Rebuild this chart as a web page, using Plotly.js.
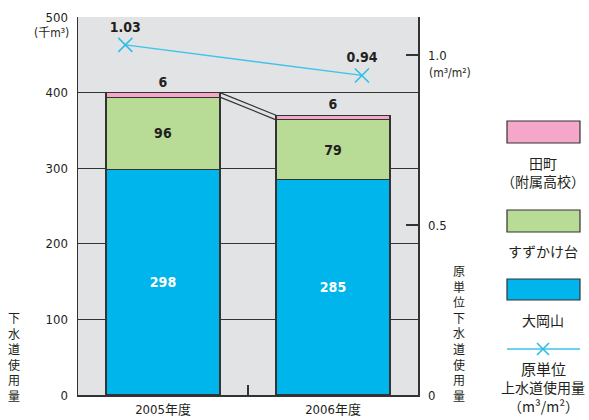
<!DOCTYPE html>
<html><head><meta charset="utf-8">
<script src="https://cdn.plot.ly/plotly-3.0.1.min.js"></script>
<style>html,body{margin:0;padding:0;background:#fff}#c{width:589px;height:420px}</style>
</head><body><div id="c"></div>
<script>
const years = ['2005年度', '2006年度'];
const ookayama = [298, 285];
const suzukakedai = [96, 79];
const tamachi = [6, 6];
const unitUsage = [1.03, 0.94];
const leftTicks = [0, 100, 200, 300, 400, 500];
const rightTicks = [0, 0.5, 1.0];
const rightTickText = ['0', '0.5', '1.0'];

const FONT = "'DejaVu Sans Condensed', 'Noto Sans CJK JP', sans-serif";
const CJK = "'Noto Sans CJK JP', sans-serif";
const INK = '#231f20';
const barW = 0.67;

const L = 78, R = 418, T = 17, B = 395, W = 589, H = 420;
const px = x => (x - L) / (R - L);
const py = y => (B - y) / (B - T);

const outline = {color: '#333', width: 1.2};
const traces = [
  {type: 'bar', x: years, y: ookayama, width: barW, marker: {color: '#00b5ec', line: outline},
   texttemplate: '<b>%{y}</b>', textposition: 'inside', insidetextanchor: 'middle',
   textfont: {family: FONT, size: 14, color: '#fff'}, hoverinfo: 'none'},
  {type: 'bar', x: years, y: suzukakedai, width: barW, marker: {color: '#b8db96', line: outline},
   texttemplate: '<b>%{y}</b>', textposition: 'inside', insidetextanchor: 'middle',
   textfont: {family: FONT, size: 14, color: INK}, hoverinfo: 'none'},
  {type: 'bar', x: years, y: tamachi, width: barW, marker: {color: '#f4a7c9', line: outline},
   texttemplate: '<b>%{y}</b>', textposition: 'outside', cliponaxis: false,
   textfont: {family: FONT, size: 14, color: INK}, hoverinfo: 'none'}
];
// connector lines between stack tops
const topTotals = years.map((_, i) => ookayama[i] + suzukakedai[i] + tamachi[i]);
const midTotals = years.map((_, i) => ookayama[i] + suzukakedai[i]);
[topTotals, midTotals].forEach(arr => {
  traces.push({type: 'scatter', mode: 'lines', xaxis: 'x3', yaxis: 'y',
    x: [0 + barW / 2, 1 - barW / 2], y: [arr[0], arr[1]],
    line: {color: '#333', width: 1.2}, hoverinfo: 'none', showlegend: false});
});
traces.push({type: 'scatter', mode: 'lines+markers+text', xaxis: 'x2', yaxis: 'y2',
  x: years, y: unitUsage, text: unitUsage.map(v => '<b>' + v.toFixed(2) + '</b>'),
  textposition: 'top center', textfont: {family: FONT, size: 14, color: INK},
  line: {color: '#3ec3ea', width: 1.3},
  marker: {symbol: 'x-thin', size: 14, line: {color: '#2fbde8', width: 1.6}},
  cliponaxis: false, hoverinfo: 'none'});

const ann = [];
const addText = (x, y, text, opts = {}) => ann.push(Object.assign({
  xref: 'paper', yref: 'paper', x: px(x), y: py(y), text, showarrow: false,
  xanchor: 'center', yanchor: 'middle',
  font: {family: CJK, size: 14, color: INK}}, opts));

// left unit
addText(71, 33, '(千m³)', {xanchor: 'right', font: {family: FONT, size: 12, color: INK}});
// right unit
addText(427, 73, '(m³/m²)', {xanchor: 'left', font: {family: FONT, size: 12, color: INK}});
// vertical titles
addText(14, 356, '下<br>水<br>道<br>使<br>用<br>量', {font: {family: CJK, size: 12, color: INK}});
addText(459, 333, '原<br>単<br>位<br>下<br>水<br>道<br>使<br>用<br>量', {font: {family: CJK, size: 12, color: INK}});
// legend
addText(543, 172, '田町<br>（附属高校）');
addText(543, 251, 'すずかけ台');
addText(543, 320, '大岡山');
addText(543, 368, '原単位', {font: {family: CJK, size: 15, color: INK}});
addText(543, 387, '上水道使用量');
addText(543, 406, '（m³/m²）');

const rect = (y0, y1, color) => ({type: 'rect', xref: 'paper', yref: 'paper',
  x0: px(507), x1: px(580), y0: py(y0), y1: py(y1), fillcolor: color, line: {color: '#333', width: 1.2}});
const seg = (x0, y0, x1, y1, color, w) => ({type: 'line', xref: 'paper', yref: 'paper',
  x0: px(x0), x1: px(x1), y0: py(y0), y1: py(y1), line: {color, width: w}});
const shapes = [
  rect(121, 143, '#f4a7c9'), rect(210, 232, '#b8db96'), rect(279, 300, '#00b5ec'),
  seg(507, 349, 580, 349, '#3ec3ea', 1.3),
  seg(537, 343, 549, 355, '#2fbde8', 1.6), seg(537, 355, 549, 343, '#2fbde8', 1.6)
];

const layout = {
  width: W, height: H,
  margin: {l: L, r: W - R, t: T, b: H - B, pad: 0},
  paper_bgcolor: '#fff', plot_bgcolor: '#e2e3e5',
  barmode: 'stack', showlegend: false,
  font: {family: FONT, size: 13, color: INK},
  xaxis: {type: 'category', range: [-0.5, 1.5], showgrid: false, ticks: '', showline: true,
    linecolor: '#333', linewidth: 1.5, mirror: false, tickfont: {family: FONT, size: 13, color: INK},
    ticklabelstandoff: 2, fixedrange: true},
  xaxis2: {type: 'category', overlaying: 'x', range: [-0.2, 1.237], visible: false, fixedrange: true},
  xaxis3: {type: 'linear', overlaying: 'x', range: [-0.5, 1.5], tickvals: [0.5], ticks: 'inside',
    ticklen: 10, tickcolor: '#333', tickwidth: 1.2, showticklabels: false, showgrid: false,
    zeroline: false, showline: false, fixedrange: true},
  yaxis: {range: [0, 500], tickvals: leftTicks, ticks: '', showgrid: true, gridcolor: '#333',
    gridwidth: 1, showline: true, linecolor: '#333', linewidth: 1.5, zeroline: false,
    ticklabelstandoff: 6, tickfont: {family: FONT, size: 13, color: INK}, fixedrange: true},
  yaxis2: {overlaying: 'y', side: 'right', range: [0, 1.112], tickvals: rightTicks,
    ticktext: rightTickText, ticks: 'inside', ticklen: 12, tickcolor: '#333', tickwidth: 1.2,
    showgrid: false, zeroline: false, showline: true, linecolor: '#333', linewidth: 1.5,
    ticklabelstandoff: 6, tickfont: {family: FONT, size: 13, color: INK}, fixedrange: true},
  annotations: ann, shapes
};
Plotly.newPlot('c', traces, layout, {displayModeBar: false, staticPlot: true});
</script></body></html>
